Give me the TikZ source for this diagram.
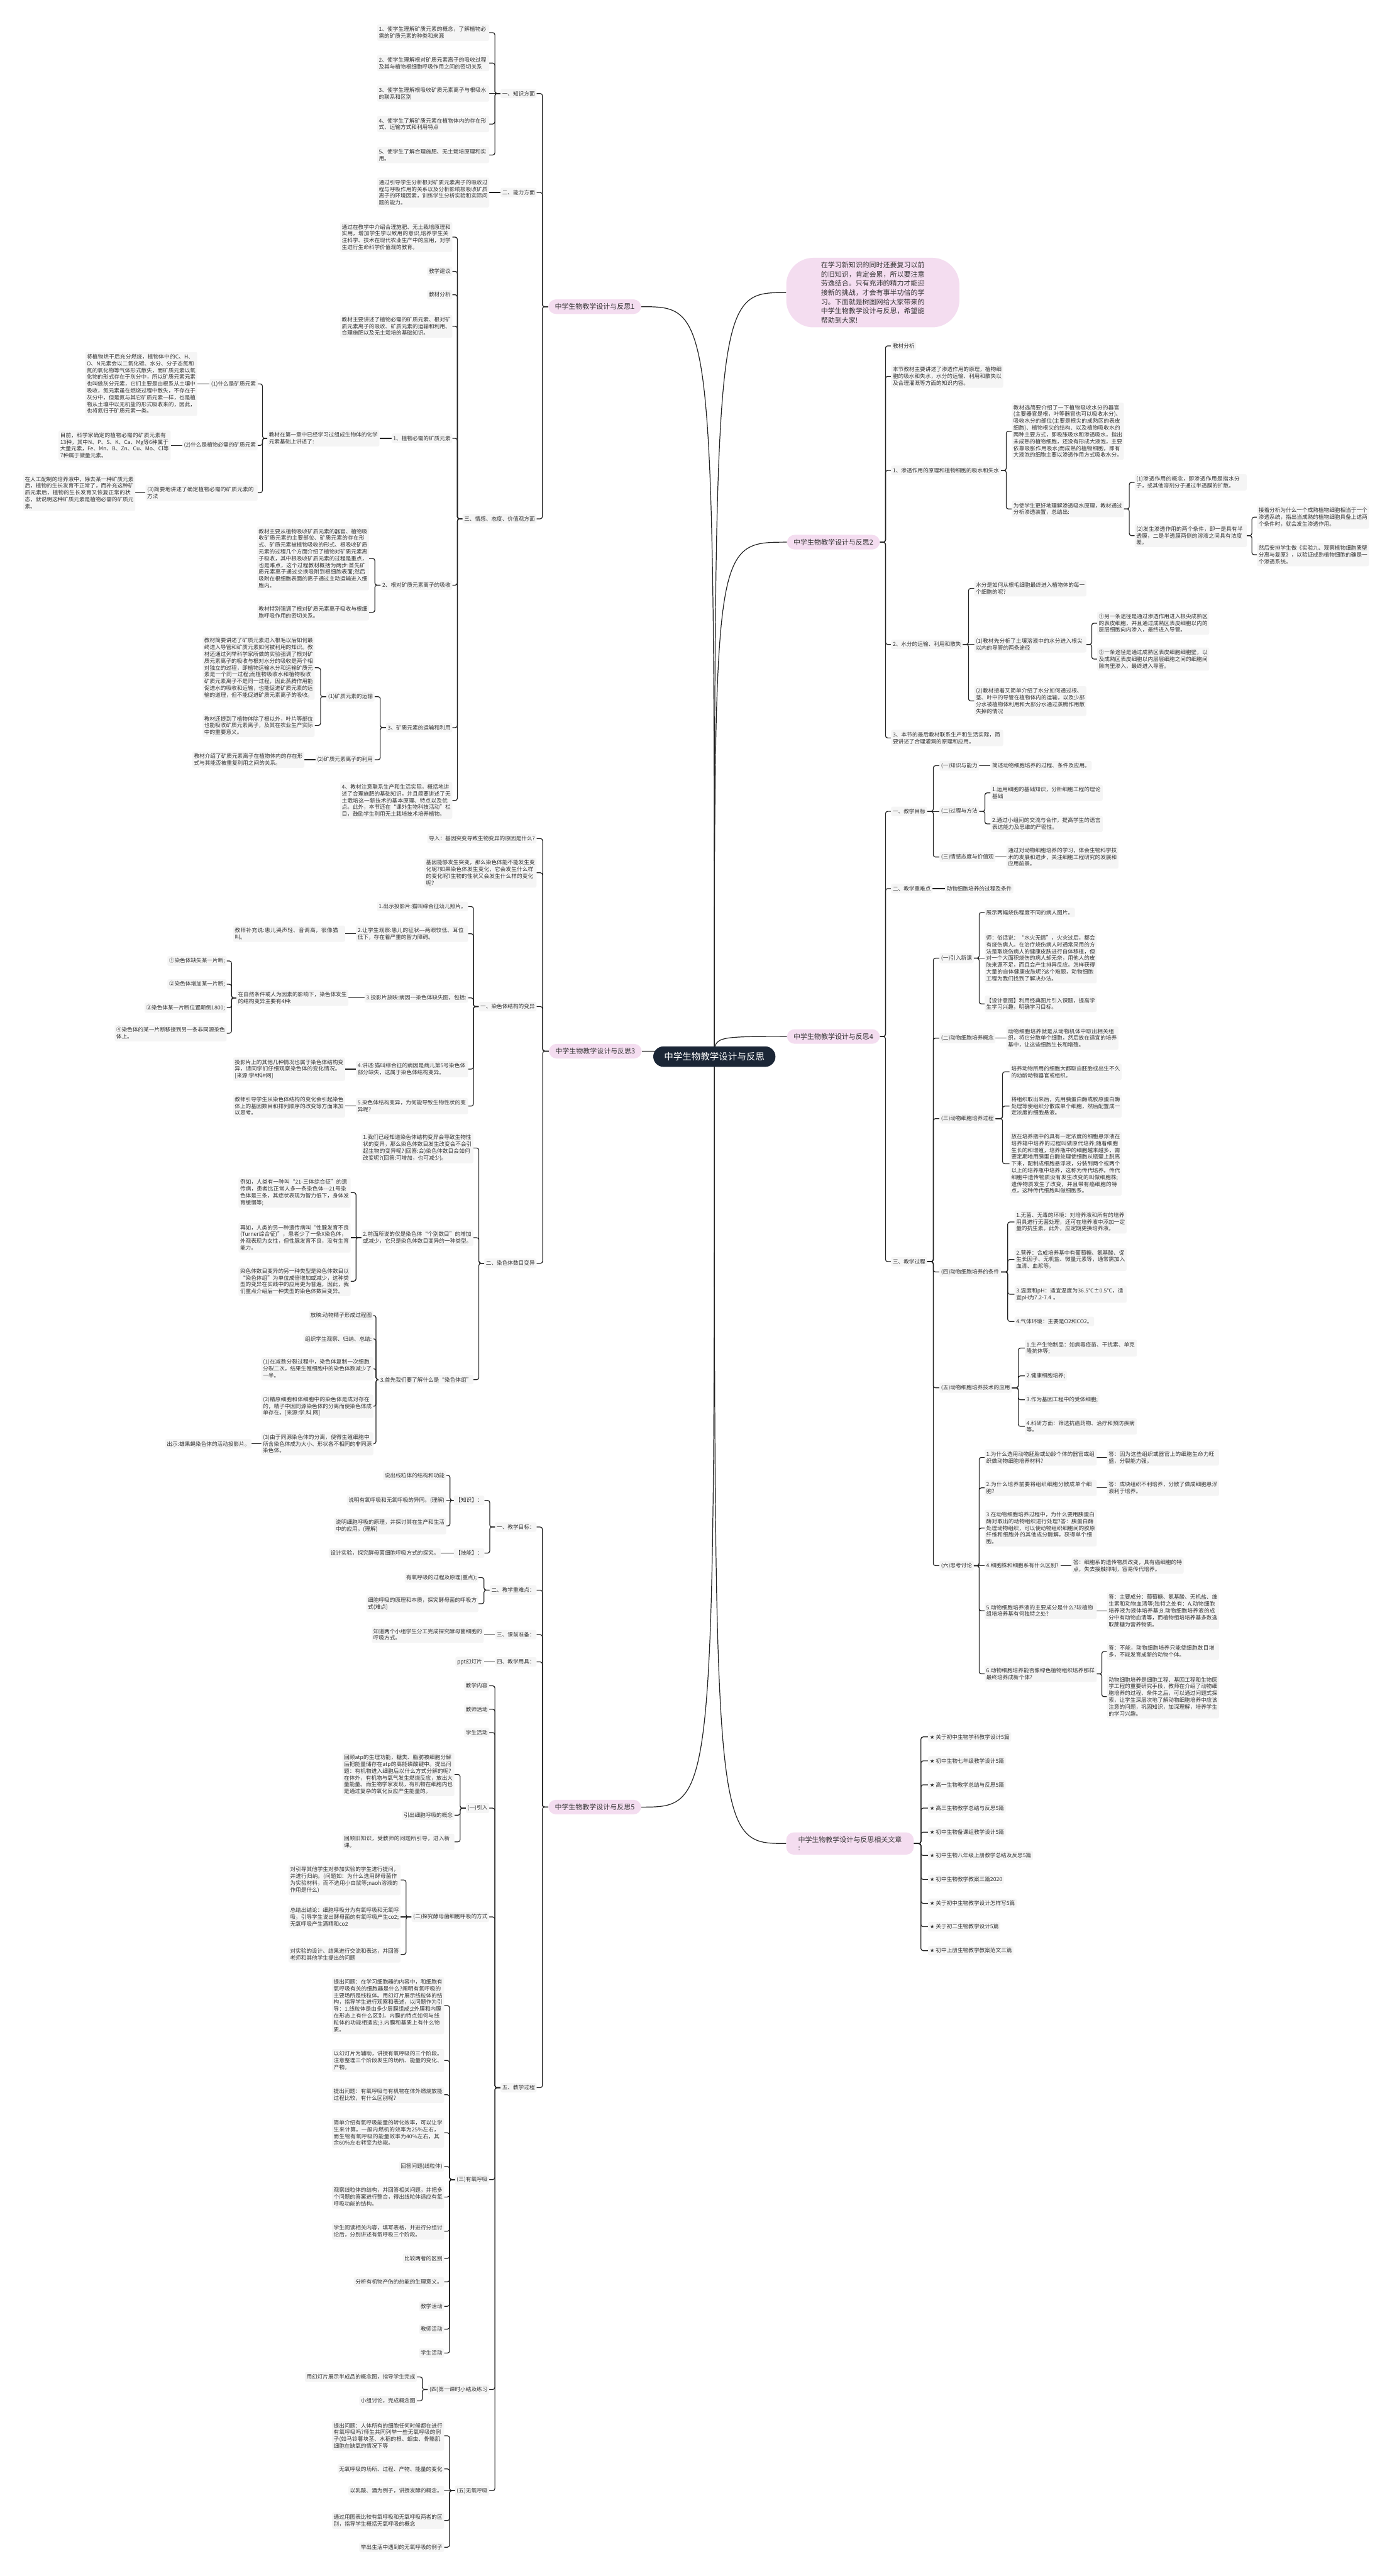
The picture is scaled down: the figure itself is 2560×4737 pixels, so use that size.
\documentclass[tikz,border=0pt]{standalone}
\usepackage{fontspec}
\setmainfont{Noto Sans CJK SC}
\newfontfamily\dejavu{DejaVu Sans}
\usetikzlibrary{calc}
\XeTeXlinebreaklocale "zh"
\XeTeXlinebreakskip=0pt plus 1pt
\definecolor{boxg}{HTML}{F5F5F5}
\definecolor{txt}{HTML}{333333}
\definecolor{lnc}{HTML}{222222}
\definecolor{pinkc}{HTML}{F4DDF0}
\definecolor{navy}{HTML}{1B2636}
\pgfdeclarelayer{bgfill}\pgfdeclarelayer{bg}\pgfsetlayers{bgfill,bg,main}
\tikzset{
 box/.style={fill=boxg, rounded corners=3pt, inner xsep=3pt, inner ysep=4pt, font=\fontsize{10}{12.5}\selectfont, text=txt, align=left},
 lb/.style={box, anchor=east},
 rb/.style={box, anchor=west},
 wr/.style={text width=200pt},
 lvl/.style={fill=pinkc, rounded corners=14pt, inner xsep=12pt, inner ysep=7.5pt, font=\fontsize{12.7}{15}\selectfont, text=txt},
 bub/.style={fill=pinkc, rounded corners=50pt, inner xsep=64pt, inner ysep=7pt, font=\fontsize{12.7}{17}\selectfont, text=txt, align=left},
 cen/.style={fill=navy, text=white, rounded corners=19pt, inner xsep=20pt, inner ysep=11pt, font=\fontsize{16.8}{20}\selectfont},
 conn/.style={draw=lnc, line width=1.4pt},
 elb/.style={rounded corners=4pt, to path={-| ($(\tikztostart)!0.5!(\tikztotarget)$) |- (\tikztotarget)}},
}
\newcommand\lk[2]{\draw[conn,elb] (#1.west) to (#2.east);}
\newcommand\rk[2]{\draw[conn,elb] (#1.east) to (#2.west);}
\newcommand\ls[2]{\draw[conn] (#1.west) -- (#2.east);}
\newcommand\rs[2]{\draw[conn] (#1.east) -- (#2.west);}
\newcommand\ctrL[1]{\draw[conn] (C.center) .. controls (C.center |- #1.east) .. (#1.east);}
\newcommand\ctrR[1]{\draw[conn] (C.center) .. controls (C.center |- #1.west) .. (#1.west);}
\begin{document}
\begin{tikzpicture}[x=1pt,y=-1pt]
\useasboundingbox (0,0) rectangle (2560,4737);
\begin{pgfonlayer}{bgfill}\fill[white] (0,0) rectangle (2560,4737);\end{pgfonlayer}

% center
\node[cen] (C) at (1314,1943) {中学生物教学设计与反思};

% ===== 反思1 =====
\node[lvl] (T1) at (1094,564) {中学生物教学设计与反思1};
\node[lb] (A1) at (987,172) {一、知识方面};
\node[lb,wr] (A11) at (900,60) {1、使学生理解矿质元素的概念，了解植物必需的矿质元素的种类和来源};
\node[lb,wr] (A12) at (900,116) {2、使学生理解根对矿质元素离子的吸收过程及其与植物根细胞呼吸作用之间的密切关系};
\node[lb,wr] (A13) at (900,172) {3、使学生理解根吸收矿质元素离子与根吸水的联系和区别};
\node[lb,wr] (A14) at (900,228) {4、使学生了解矿质元素在植物体内的存在形式、运输方式和利用特点};
\node[lb,wr] (A15) at (900,285) {5、使学生了解合理施肥、无土栽培原理和实用。};
\node[lb] (A2) at (987,354) {二、能力方面};
\node[lb,wr] (A21) at (900,354) {通过引导学生分析根对矿质元素离子的吸收过程与呼吸作用的关系以及分析影响根吸收矿质离子的环境因素，训练学生分析实验和实际问题的能力。};
\node[lb] (A3) at (987,954) {三、情感、态度、价值观方面};
\node[lb,wr] (A31) at (832,436) {通过在教学中介绍合理施肥、无土栽培原理和实用，增加学生学以致用的意识,培养学生关注科学、技术在现代农业生产中的应用，对学生进行生命科学价值观的教育。};
\node[lb] (A32) at (832,499) {教学建议};
\node[lb] (A33) at (832,542) {教材分析};
\node[lb,wr] (A34) at (832,600) {教材主要讲述了植物必需的矿质元素、根对矿质元素离子的吸收、矿质元素的运输和利用、合理施肥以及无土栽培的基础知识。};
\node[lb] (A35) at (832,806) {1、植物必需的矿质元素};
\node[lb] (A36) at (832,1076) {2、根对矿质元素离子的吸收};
\node[lb] (A37) at (832,1338) {3、矿质元素的运输和利用};
\node[lb,wr] (A38) at (832,1472) {4、教材注意联系生产和生活实际，概括地讲述了合理施肥的基础知识，并且简要讲述了无土栽培这一新技术的基本原理、特点以及优点。此外，本节还在“课外生物科技活动”栏目，鼓励学生利用无土栽培技术培养植物。};
\node[lb,wr] (A351) at (698,806) {教材在第一章中已经学习过组成生物体的化学元素基础上讲述了:};
\node[lb] (A3511) at (474,706) {(1)什么是矿质元素};
\node[lb] (A3512) at (474,819) {(2)什么是植物必需的矿质元素};
\node[lb,wr] (A3513) at (474,906) {(3)简要地讲述了确定植物必需的矿质元素的方法};
\node[lb,wr] (A35111) at (363,706) {将植物烘干后充分燃烧，植物体中的C、H、O、N元素会以二氧化碳、水分、分子态氮和氮的氧化物等气体形式散失，而矿质元素以氧化物的形式存在于灰分中，所以矿质元素元素也叫做灰分元素，它们主要是由根系从土壤中吸收，氮元素虽在燃烧过程中散失，不存在于灰分中，但是氮与其它矿质元素一样，也是植物从土壤中以无机盐的形式吸收来的，因此，也将氮归于矿质元素一类。};
\node[lb,wr] (A35121) at (314,819) {目前，科学家确定的植物必需的矿质元素有13种，其中N、P、S、K、Ca、Mg等6种属于大量元素，Fe、Mn、B、Zn、Cu、Mo、Cl等7种属于微量元素。};
\node[lb,wr] (A35131) at (249,906) {在人工配制的培养液中，除去某一种矿质元素后，植物的生长发育不正常了，而补充这种矿质元素后，植物的生长发育又恢复正常的状态，就说明这种矿质元素是植物必需的矿质元素。};
\node[lb,wr] (A361) at (679,1027) {教材主要从植物吸收矿质元素的器官、植物吸收矿质元素的主要部位、矿质元素的存在形式、矿质元素被植物吸收的形式、根吸收矿质元素的过程几个方面介绍了植物对矿质元素离子吸收，其中根吸收矿质元素的过程是重点，也是难点，这个过程教材概括为两步:首先矿质元素离子通过交换吸附到根细胞表面;然后吸附在根细胞表面的离子通过主动运输进入细胞内。};
\node[lb,wr] (A362) at (679,1126) {教材特别强调了根对矿质元素离子吸收与根细胞呼吸作用的密切关系。};
\node[lb] (A371) at (689,1281) {(1)矿质元素的运输};
\node[lb] (A372) at (689,1397) {(2)矿质元素离子的利用};
\node[lb,wr] (A3711) at (579,1228) {教材简要讲述了矿质元素进入根毛以后如何最终进入导管和矿质元素如何被利用的知识。教材还通过列举科学家所做的实验强调了根对矿质元素离子的吸收与根对水分的吸收是两个相对独立的过程，即植物运输水分和运输矿质元素是一个同一过程;而植物吸收水和植物吸收矿质元素离子不是同一过程，因此蒸腾作用能促进水的吸收和运输，也能促进矿质元素的运输的道理，但不能促进矿质元素离子的吸收。};
\node[lb,wr] (A3712) at (579,1334) {教材还提到了植物体除了根以外，叶片等部位也能吸收矿质元素离子，及其在农业生产实际中的重要意义。};
\node[lb,wr] (A3721) at (560,1397) {教材介绍了矿质元素离子在植物体内的存在形式与其能否被重复利用之间的关系。};

% ===== 反思3 =====
\node[lvl] (T3) at (1095,1933) {中学生物教学设计与反思3};
\node[lb] (B0) at (987,1542) {导入：基因突变导致生物变异的原因是什么?};
\node[lb,wr] (B1) at (987,1605) {基因能够发生突变，那么染色体能不能发生变化呢?如果染色体发生变化，它会发生什么样的变化呢?生物的性状又会发生什么样的变化呢?};
\node[lb] (B2) at (987,1851) {一、染色体结构的变异};
\node[lb] (B3) at (987,2323) {二、染色体数目变异};
\node[lb] (B21) at (861,1667) {1.出示投影片:猫叫综合征幼儿照片。};
\node[lb,wr] (B22) at (861,1717) {2.让学生观察:患儿的征状-{}-{}-两眼较低、耳位低下，存在着严重的智力障碍。};
\node[lb] (B23) at (861,1835) {3.投影片放映:病因-{}-{}-染色体缺失图，包括:};
\node[lb,wr] (B24) at (861,1966) {4.讲述:猫叫综合征的病因是病儿第5号染色体部分缺失，这属于染色体结构变异。};
\node[lb,wr] (B25) at (861,2034) {5.染色体结构变异，为何能导致生物性状的变异呢?};
\node[lb,wr] (B221) at (635,1717) {教师补充说:患儿哭声轻、音调高，很像猫叫。};
\node[lb,wr] (B231) at (641,1835) {在自然条件或人为因素的影响下，染色体发生的结构变异主要有4种:};
\node[lb] (B2311) at (417,1767) {①染色体缺失某一片断;};
\node[lb] (B2312) at (417,1810) {②染色体增加某一片断;};
\node[lb] (B2313) at (417,1853) {③染色体某一片断位置颠倒1800;};
\node[lb,wr] (B2314) at (417,1900) {④染色体的某一片断移接到另一条非同源染色体上。};
\node[lb,wr] (B241) at (635,1966) {投影片上的其他几种情况也属于染色体结构变异，请同学们仔细观察染色体的变化情况。[来源:学\#科\#网]};
\node[lb,wr] (B251) at (635,2034) {教师引导学生从染色体结构的变化会引起染色体上的基因数目和排列顺序的改变等方面来加以思考。};
\node[lb,wr] (B31) at (871,2111) {1.我们已经知道染色体结构变异会导致生物性状的变异，那么染色体数目发生改变会不会引起生物的变异呢?(回答:会)染色体数目会如何改变呢?(回答:可增加，也可减少)。};
\node[lb,wr] (B32) at (871,2276) {2.前面所说的仅是染色体“个别数目”的增加或减少，它只是染色体数目变异的一种类型。};
\node[lb] (B33) at (871,2537) {3.首先我们要了解什么是“染色体组”};
\node[lb,wr] (B321) at (645,2193) {例如，人类有一种叫“21-三体综合征”的遗传病，患者比正常人多一条染色体-{}-{}-21号染色体是三条，其症状表现为智力低下，身体发育缓慢等;};
\node[lb,wr] (B322) at (645,2276) {再如，人类的另一种遗传病叫“性腺发育不良(Turner综合征)”，患者少了一条X染色体，外观表现为女性，但性腺发育不良，没有生育能力。};
\node[lb,wr] (B323) at (645,2356) {染色体数目变异的另一种类型是染色体数目以“染色体组”为单位成倍增加或减少，这种类型的变异在实践中的应用更为普遍，因此，我们重点介绍后一种类型的染色体数目变异。};
\node[lb] (B331) at (687,2419) {放映:动物精子形成过程图};
\node[lb] (B332) at (687,2462) {组织学生观察、归纳、总结:};
\node[lb,wr] (B333) at (687,2517) {(1)在减数分裂过程中，染色体复制一次细胞分裂二次，结果生殖细胞中的染色体数减少了一半。};
\node[lb,wr] (B334) at (687,2586) {(2)精原细胞和体细胞中的染色体是成对存在的，精子中因同源染色体的分离而使染色体成单存在。[来源:学.科.网]};
\node[lb,wr] (B335) at (687,2655) {(3)由于同源染色体的分离，使得生殖细胞中所含染色体成为大小、形状各不相同的非同源染色体。};
\node[lb] (B3351) at (463,2655) {出示:雄果蝇染色体的活动投影片。};

% ===== 反思5 =====
\node[lvl] (T5) at (1094,3323) {中学生物教学设计与反思5};
\node[lb] (E1) at (987,2808) {一、教学目标：};
\node[lb] (E2) at (987,2924) {二、教学重难点：};
\node[lb] (E3) at (987,3006) {三、课前准备：};
\node[lb] (E4) at (987,3056) {四、教学用具：};
\node[lb] (E5) at (987,3839) {五、教学过程};
\node[lb] (E11) at (891,2759) {【知识】：};
\node[lb] (E12) at (891,2856) {【技能】：};
\node[lb] (E111) at (821,2713) {说出线粒体的结构和功能};
\node[lb] (E112) at (821,2759) {说明有氧呼吸和无氧呼吸的异同。(理解)};
\node[lb,wr] (E113) at (821,2806) {说明细胞呼吸的原理，并探讨其在生产和生活中的应用。(理解)};
\node[lb] (E121) at (811,2856) {设计实验，探究酵母菌细胞呼吸方式的探究。};
\node[lb] (E21) at (880,2901) {有氧呼吸的过程及原理(重点);};
\node[lb,wr] (E22) at (880,2949) {细胞呼吸的原理和本质，探究酵母菌的呼吸方式(难点)};
\node[lb,wr] (E31) at (890,3006) {知道两个小组学生分工完成探究酵母菌细胞的呼吸方式。};
\node[lb] (E41) at (890,3056) {ppt幻灯片};
\node[lb] (E51) at (900,3100) {教学内容};
\node[lb] (E52) at (900,3143) {教师活动};
\node[lb] (E53) at (900,3186) {学生活动};
\node[lb] (E54) at (900,3325) {(一)引入};
\node[lb] (E55) at (900,3525) {(二)探究酵母菌细胞呼吸的方式};
\node[lb] (E56) at (900,4008) {(三)有氧呼吸};
\node[lb] (E57) at (900,4394) {(四)第一课时小结及练习};
\node[lb] (E58) at (900,4580) {(五)无氧呼吸};
\node[lb,wr] (E541) at (836,3263) {回顾atp的生理功能，糖类、脂肪被细胞分解后把能量储存在atp的高能磷酸键中。提出问题：有机物进入细胞后以什么方式分解的呢?在体外，有机物与氧气发生燃烧反应，放出大量能量。而生物学家发现，有机物在细胞内也是通过复杂的氧化反应产生能量的。};
\node[lb] (E542) at (836,3338) {引出细胞呼吸的概念};
\node[lb,wr] (E543) at (836,3387) {回顾旧知识，受教师的问题所引导，进入新课。};
\node[lb,wr] (E551) at (737,3457) {对引导其他学生对参加实验的学生进行提问，并进行归纳。(问题如：为什么选用酵母菌作为实验材料，而不选用小白鼠等;naoh溶液的作用是什么)};
\node[lb,wr] (E552) at (737,3525) {总结出结论：细胞呼吸分为有氧呼吸和无氧呼吸，引导学生说出酵母菌的有氧呼吸产生co2;无氧呼吸产生酒精和co2};
\node[lb,wr] (E553) at (737,3594) {对实验的设计、结果进行交流和表达，并回答老师和其他学生提出的问题};
\node[lb,wr] (E561) at (817,3688) {提出问题：在学习细胞器的内容中，和细胞有氧呼吸有关的细胞器是什么?阐明有氧呼吸的主要场所是线粒体。用幻灯片展示线粒体的结构，指导学生进行观察和表述，以问题作为引导：1.线粒体是由多少层膜组成;2外膜和内膜在形态上有什么区别，内膜的特点如何与线粒体的功能相适应;3.内膜和基质上有什么物质。};
\node[lb,wr] (E562) at (817,3789) {以幻灯片为辅助，讲授有氧呼吸的三个阶段。注意整理三个阶段发生的场所、能量的变化、产物。};
\node[lb,wr] (E563) at (817,3852) {提出问题：有氧呼吸与有机物在体外燃烧放能过程比较，有什么区别呢?};
\node[lb,wr] (E564) at (817,3922) {简单介绍有氧呼吸能量的转化效率，可以让学生来计算。一般内燃机的效率为25\%左右，而生物有氧呼吸的能量效率为40\%左右，其余60\%左右转变为热能。};
\node[lb] (E565) at (817,3984) {回答问题(线粒体)};
\node[lb,wr] (E566) at (817,4040) {观察线粒体的结构，并回答相关问题，并把多个问题的答案进行整合，得出线粒体适应有氧呼吸功能的结构。};
\node[lb,wr] (E567) at (817,4103) {学生阅读相关内容，填写表格，并进行分组讨论后，分别讲述有氧呼吸三个阶段。};
\node[lb] (E568) at (817,4153) {比较两者的区别};
\node[lb] (E569) at (817,4196) {分析有机物产伤的热能的生理意义。};
\node[lb] (E56a) at (817,4241) {教学活动};
\node[lb] (E56b) at (817,4283) {教师活动};
\node[lb] (E56c) at (817,4327) {学生活动};
\node[lb] (E571) at (767,4371) {用幻灯片展示半成品的概念图，指导学生完成};
\node[lb] (E572) at (767,4415) {小组讨论，完成概念图};
\node[lb,wr] (E581) at (817,4479) {提出问题：人体所有的细胞任何时候都在进行有氧呼吸吗?师生共同列举一些无氧呼吸的例子(如马铃薯块茎、水稻的根、蛔虫、骨骼肌细胞在缺氧的情况下等};
\node[lb] (E582) at (817,4540) {无氧呼吸的场所、过程、产物、能量的变化};
\node[lb] (E583) at (817,4580) {以乳酸、酒为例子，讲授发酵的概念。};
\node[lb,wr] (E584) at (817,4635) {通过用图表比较有氧呼吸和无氧呼吸两者的区别，指导学生概括无氧呼吸的概念};
\node[lb] (E585) at (817,4684) {举出生活中遇到的无氧呼吸的例子};

% ===== bubble =====
\node[bub,anchor=west] (BUB) at (1446,538) {在学习新知识的同时还要复习以前\\的旧知识，肯定会累，所以要注意\\劳逸结合。只有充沛的精力才能迎\\接新的挑战，才会有事半功倍的学\\习。下面就是树图网给大家带来的\\中学生物教学设计与反思，希望能\\帮助到大家!};

% ===== 反思2 =====
\node[lvl] (T2) at (1533,997) {中学生物教学设计与反思2};
\node[rb] (C1) at (1639,636) {教材分析};
\node[rb,wr] (C2) at (1639,692) {本节教材主要讲述了渗透作用的原理，植物细胞的吸水和失水，水分的运输、利用和散失以及合理灌溉等方面的知识内容。};
\node[rb] (C3) at (1639,865) {1、渗透作用的原理和植物细胞的吸水和失水};
\node[rb] (C4) at (1639,1185) {2、水分的运输、利用和散失};
\node[rb,wr] (C5) at (1639,1357) {3、本节的最后教材联系生产和生活实际，简要讲述了合理灌溉的原理和应用。};
\node[rb,wr] (C31) at (1861,793) {教材选简要介绍了一下植物吸收水分的器官(主要器官是根，叶等器官也可以吸收水分)、吸收水分的部位(主要是根尖的成熟区的表皮细胞)、植物根尖的结构、以及植物吸收水的两种主要方式，即吸胀吸水和渗透吸水，指出未成熟的植物细胞，还没有形成大液泡，主要依靠吸胀作用吸水;而成熟的植物细胞，即有大液泡的细胞主要以渗透作用方式吸收水分。};
\node[rb,wr] (C32) at (1861,936) {为使学生更好地理解渗透吸水原理，教材通过分析渗透装置，总结出:};
\node[rb,wr] (C321) at (2087,887) {(1)渗透作用的概念，即渗透作用是指水分子，或其他溶剂分子通过半透膜的扩散。};
\node[rb,wr] (C322) at (2087,985) {(2)发生渗透作用的两个条件，即一是具有半透膜，二是半透膜两侧的溶液之间具有浓度差。};
\node[rb,wr] (C3221) at (2312,951) {接着分析为什么一个成熟植物细胞相当于一个渗透系统，指出当成熟的植物细胞具备上述两个条件时，就会发生渗透作用。};
\node[rb,wr] (C3222) at (2312,1020) {然后安排学生做《实验九、观察植物细胞质壁分离与复原》，以验证成熟植物细胞的确是一个渗透系统。};
\node[rb,wr] (C41) at (1792,1082) {水分是如何从根毛细胞最终进入植物体的每一个细胞的呢?};
\node[rb,wr] (C42) at (1792,1185) {(1)教材先分析了土壤溶液中的水分进入根尖以内的导管的两条途径};
\node[rb,wr] (C43) at (1792,1289) {(2)教材接着又简单介绍了水分如何通过根、茎、叶中的导管在植物体内的运输，以及少部分水被植物体利用和大部分水通过蒸腾作用散失掉的情况};
\node[rb,wr] (C421) at (2018,1146) {①另一条途径是通过渗透作用进入根尖成熟区的表皮细胞，并且通过成熟区表皮细胞以内的层层细胞向内渗入，最终进入导管。};
\node[rb,wr] (C422) at (2018,1212) {②一条途径是通过成熟区表皮细胞细胞壁，以及成熟区表皮细胞以内层层细胞之间的细胞间隙向里渗入，最终进入导管。};

% ===== 反思4 =====
\node[lvl] (T4) at (1533,1906) {中学生物教学设计与反思4};
\node[rb] (D1) at (1639,1492) {一、教学目标};
\node[rb] (D2) at (1639,1634) {二、教学重难点};
\node[rb] (D3) at (1639,2320) {三、教学过程};
\node[rb] (D11) at (1728,1408) {(一)知识与能力};
\node[rb] (D12) at (1728,1492) {(二)过程与方法};
\node[rb] (D13) at (1728,1576) {(三)情感态度与价值观};
\node[rb] (D111) at (1822,1408) {简述动物细胞培养的过程、条件及应用。};
\node[rb,wr] (D121) at (1822,1458) {1.运用细胞的基础知识，分析细胞工程的理论基础};
\node[rb,wr] (D122) at (1822,1515) {2.通过小组间的交流与合作，提高学生的语言表达能力及思维的严密性。};
\node[rb,wr] (D131) at (1851,1576) {通过对动物细胞培养的学习，体会生物科学技术的发展和进步，关注细胞工程研究的发展和应用前景。};
\node[rb] (D21) at (1738,1634) {动物细胞培养的过程及条件};
\node[rb] (D31) at (1728,1762) {(一)引入新课};
\node[rb] (D32) at (1728,1909) {(二)动物细胞培养概念};
\node[rb] (D33) at (1728,2057) {(三)动物细胞培养过程};
\node[rb] (D34) at (1728,2339) {(四)动物细胞培养的条件};
\node[rb] (D35) at (1728,2552) {(五)动物细胞培养技术的应用};
\node[rb] (D36) at (1728,2879) {(六)思考讨论};
\node[rb] (D311) at (1811,1678) {展示两幅烧伤程度不同的病人图片。};
\node[rb,wr] (D312) at (1811,1762) {师：俗话说：“水火无情”，火灾过后，都会有烧伤病人。在治疗烧伤病人时通常采用的方法是取烧伤病人的健康皮肤进行自体移植，但对一个大面积烧伤的病人却无奈，用他人的皮肤来源不足，而且会产生排异反应。怎样获得大量的自体健康皮肤呢?这个难题，动物细胞工程为我们找到了解决办法。};
\node[rb,wr] (D313) at (1811,1846) {【设计意图】利用经典图片引入课题，提高学生学习兴趣，明确学习目标。};
\node[rb,wr] (D321) at (1851,1909) {动物细胞培养就是从动物机体中取出相关组织，将它分散单个细胞，然后放在适宜的培养基中，让这些细胞生长和增殖。};
\node[rb,wr] (D331) at (1857,1971) {培养动物所用的细胞大都取自胚胎或出生不久的幼龄动物器官或组织。};
\node[rb,wr] (D332) at (1857,2034) {将组织取出来后，先用胰蛋白酶或胶原蛋白酶处理等使组织分散成单个细胞，然后配置成一定浓度的细胞悬液。};
\node[rb,wr] (D333) at (1857,2140) {放在培养瓶中的具有一定浓度的细胞悬浮液在培养箱中培养的过程叫做原代培养;随着细胞生长的和增殖，培养瓶中的细胞越来越多，需要定期地用胰蛋白酶处理使细胞从瓶壁上脱离下来，配制成细胞悬浮液，分装到两个或两个以上的培养瓶中培养，这称为传代培养。传代细胞中遗传物质没有发生改变的叫做细胞株;遗传物质发生了改变，并且带有癌细胞的特点，这种传代细胞叫做细胞系。};
\node[rb,wr] (D341) at (1866,2247) {1.无菌、无毒的环境：对培养液和所有的培养用具进行无菌处理，还可在培养液中添加一定量的抗生素。此外，应定期更换培养液。};
\node[rb,wr] (D342) at (1866,2316) {2.营养：合成培养基中有葡萄糖、氨基酸、促生长因子、无机盐、微量元素等，通常需加入血清、血浆等。};
\node[rb,wr] (D343) at (1866,2380) {3.温度和pH：适宜温度为36.5℃±0.5℃，适宜pH为7.2-7.4 。};
\node[rb] (D344) at (1866,2430) {4.气体环境：主要是O2和CO2。};
\node[rb,wr] (D351) at (1885,2479) {1.生产生物制品：如病毒疫苗、干扰素、单克隆抗体等;};
\node[rb] (D352) at (1885,2530) {2.健康细胞培养;};
\node[rb] (D353) at (1885,2574) {3.作为基因工程中的受体细胞;};
\node[rb,wr] (D354) at (1885,2623) {4.科研方面：筛选抗癌药物、治疗和预防疾病等。};
\node[rb,wr] (D361) at (1811,2680) {1.为什么选用动物胚胎或幼龄个体的器官或组织做动物细胞培养材料?};
\node[rb,wr] (D362) at (1811,2736) {2.为什么培养前要将组织细胞分散成单个细胞?};
\node[rb,wr] (D363) at (1811,2810) {3.在动物细胞培养过程中，为什么要用胰蛋白酶对取出的动物组织进行处理?答：胰蛋白酶处理动物组织，可以使动物组织细胞间的胶原纤维和细胞外的其他成分酶解，获得单个细胞。};
\node[rb] (D364) at (1811,2879) {4.细胞株和细胞系有什么区别?};
\node[rb,wr] (D365) at (1811,2962) {5.动物细胞培养液的主要成分是什么?较植物组培培养基有何独特之处?};
\node[rb,wr] (D366) at (1811,3078) {6.动物细胞培养能否像绿色植物组织培养那样最终培养成新个体?};
\node[rb,wr] (D3611) at (2036,2680) {答：因为这些组织或器官上的细胞生命力旺盛，分裂能力强。};
\node[rb,wr] (D3621) at (2036,2736) {答：成块组织不利培养，分散了做成细胞悬浮液利于培养。};
\node[rb,wr] (D3641) at (1971,2879) {答：细胞系的遗传物质改变，具有癌细胞的特点，失去接触抑制，容易传代培养。};
\node[rb,wr] (D3651) at (2036,2962) {答：主要成分：葡萄糖、氨基酸、无机盐、维生素和动物血清等;独特之处有：A.动物细胞培养液为液体培养基;B.动物细胞培养液的成分中有动物血清等，而植物组培培养基多数选取蔗糖为营养物质。};
\node[rb,wr] (D3661) at (2036,3037) {答：不能，动物细胞培养只能使细胞数目增多，不能发育成新的动物个体。};
\node[rb,wr] (D3662) at (2036,3120) {动物细胞培养是细胞工程、基因工程和生物医学工程的重要研究手段，教师在介绍了动物细胞培养的过程、条件之后，可以通过问题式探索，让学生深层次地了解动物细胞培养中应该注意的问题，巩固知识，加深理解，培养学生的学习兴趣。};

% ===== 相关文章 =====
\node[lvl,anchor=west,align=left,inner xsep=22pt] (T6) at (1446,3390) {中学生物教学设计与反思相关文章\\:};
\node[rb] (K1) at (1707,3194) {{\dejavu ★} 关于初中生物学科教学设计5篇};
\node[rb] (K2) at (1707,3238) {{\dejavu ★} 初中生物七年级教学设计5篇};
\node[rb] (K3) at (1707,3282) {{\dejavu ★} 高一生物教学总结与反思5篇};
\node[rb] (K4) at (1707,3325) {{\dejavu ★} 高三生物教学总结与反思5篇};
\node[rb] (K5) at (1707,3369) {{\dejavu ★} 初中生物备课组教学设计5篇};
\node[rb] (K6) at (1707,3412) {{\dejavu ★} 初中生物八年级上册教学总结及反思5篇};
\node[rb] (K7) at (1707,3456) {{\dejavu ★} 初中生物教学教案三篇2020};
\node[rb] (K8) at (1707,3500) {{\dejavu ★} 关于初中生物教学设计怎样写5篇};
\node[rb] (K9) at (1707,3543) {{\dejavu ★} 关于初二生物教学设计5篇};
\node[rb] (K10) at (1707,3587) {{\dejavu ★} 初中上册生物教学教案范文三篇};

% ===== connectors =====
\begin{pgfonlayer}{bg}
\ctrL{T1}\ctrL{T3}\ctrL{T5}
\ctrR{BUB}\ctrR{T2}\ctrR{T4}\ctrR{T6}
% 1
\foreach \c in {A1,A2,A3} {\lk{T1}{\c}}
\foreach \c in {A11,A12,A14,A15} {\lk{A1}{\c}}
\ls{A1}{A13}\ls{A2}{A21}
\foreach \c in {A31,A32,A33,A34,A35,A36,A37,A38} {\lk{A3}{\c}}
\ls{A35}{A351}
\foreach \c in {A3511,A3512,A3513} {\lk{A351}{\c}}
\ls{A3511}{A35111}\ls{A3512}{A35121}\ls{A3513}{A35131}
\foreach \c in {A361,A362} {\lk{A36}{\c}}
\foreach \c in {A371,A372} {\lk{A37}{\c}}
\foreach \c in {A3711,A3712} {\lk{A371}{\c}}
\ls{A372}{A3721}
% 3
\foreach \c in {B0,B1,B2,B3} {\lk{T3}{\c}}
\foreach \c in {B21,B22,B23,B24,B25} {\lk{B2}{\c}}
\ls{B22}{B221}\ls{B23}{B231}\ls{B24}{B241}\ls{B25}{B251}
\foreach \c in {B2311,B2312,B2313,B2314} {\lk{B231}{\c}}
\foreach \c in {B31,B32,B33} {\lk{B3}{\c}}
\foreach \c in {B321,B323} {\lk{B32}{\c}}
\ls{B32}{B322}
\foreach \c in {B331,B332,B333,B334,B335} {\lk{B33}{\c}}
\ls{B335}{B3351}
% 5
\foreach \c in {E1,E2,E3,E4,E5} {\lk{T5}{\c}}
\foreach \c in {E11,E12} {\lk{E1}{\c}}
\foreach \c in {E111,E113} {\lk{E11}{\c}}
\ls{E11}{E112}\ls{E12}{E121}
\foreach \c in {E21,E22} {\lk{E2}{\c}}
\ls{E3}{E31}\ls{E4}{E41}
\foreach \c in {E51,E52,E53,E54,E55,E56,E57,E58} {\lk{E5}{\c}}
\foreach \c in {E541,E542,E543} {\lk{E54}{\c}}
\foreach \c in {E551,E553} {\lk{E55}{\c}}
\ls{E55}{E552}
\foreach \c in {E561,E562,E563,E564,E565,E566,E567,E568,E569,E56a,E56b,E56c} {\lk{E56}{\c}}
\foreach \c in {E571,E572} {\lk{E57}{\c}}
\foreach \c in {E581,E582,E584,E585} {\lk{E58}{\c}}
\ls{E58}{E583}
% 2
\foreach \c in {C1,C2,C3,C4,C5} {\rk{T2}{\c}}
\foreach \c in {C31,C32} {\rk{C3}{\c}}
\foreach \c in {C321,C322} {\rk{C32}{\c}}
\foreach \c in {C3221,C3222} {\rk{C322}{\c}}
\foreach \c in {C41,C43} {\rk{C4}{\c}}
\rs{C4}{C42}
\foreach \c in {C421,C422} {\rk{C42}{\c}}
% 4
\foreach \c in {D1,D2,D3} {\rk{T4}{\c}}
\foreach \c in {D11,D13} {\rk{D1}{\c}}
\rs{D1}{D12}\rs{D11}{D111}\rs{D13}{D131}\rs{D2}{D21}
\foreach \c in {D121,D122} {\rk{D12}{\c}}
\foreach \c in {D31,D32,D33,D34,D35,D36} {\rk{D3}{\c}}
\foreach \c in {D311,D313} {\rk{D31}{\c}}
\rs{D31}{D312}\rs{D32}{D321}
\foreach \c in {D331,D332,D333} {\rk{D33}{\c}}
\foreach \c in {D341,D342,D343,D344} {\rk{D34}{\c}}
\foreach \c in {D351,D352,D353,D354} {\rk{D35}{\c}}
\foreach \c in {D361,D362,D363,D365,D366} {\rk{D36}{\c}}
\rs{D36}{D364}
\rs{D361}{D3611}\rs{D362}{D3621}\rs{D364}{D3641}\rs{D365}{D3651}
\foreach \c in {D3661,D3662} {\rk{D366}{\c}}
% related
\foreach \c in {K1,K2,K3,K4,K5,K6,K7,K8,K9,K10} {\rk{T6}{\c}}
\end{pgfonlayer}
\end{tikzpicture}
\end{document}
